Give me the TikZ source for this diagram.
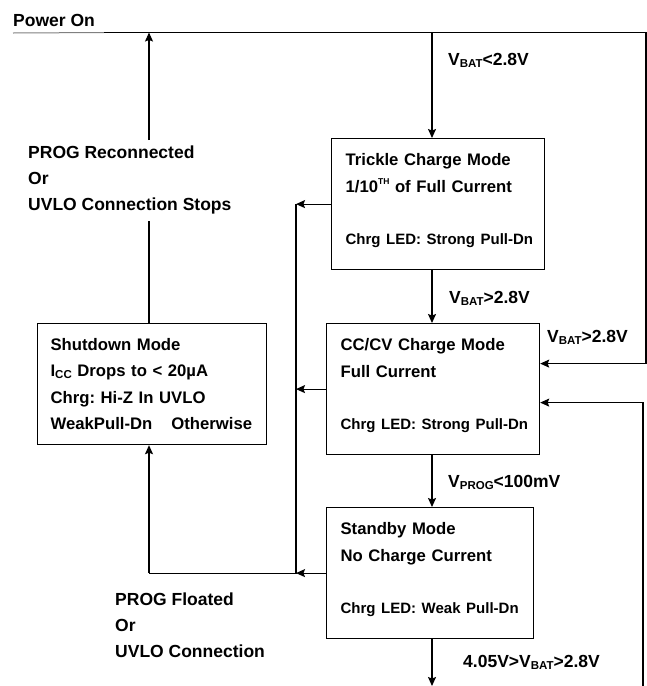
\documentclass[tikz,border=0pt]{standalone}
\usepackage{fontspec}
\setmainfont{Liberation Sans}
\usetikzlibrary{arrows.meta}
\newcommand{\boxfont}{\fontsize{16.7}{26.3}\selectfont\bfseries\frenchspacing}
\newcommand{\ledline}[1]{\mbox{\fontsize{15}{26.3}\selectfont #1\rule[-10pt]{0pt}{10pt}}}
\newcommand{\lblfont}{\fontsize{17.5}{26}\selectfont\bfseries\frenchspacing}
\newcommand{\lowtxt}[1]{\raisebox{-2pt}{\fontsize{11.5}{12}\selectfont #1}}
\newcommand{\hightxt}[1]{\raisebox{8pt}{\fontsize{8.5}{9}\selectfont #1}}
\tikzstyle{arrow} = [line width=1.2pt,->,>={Stealth[length=9pt,width=8pt,inset=1.5pt]}]
\tikzstyle{wire} = [line width=1.2pt]
\tikzset{modebox/.style={draw,line width=1.2pt,anchor=north west,align=left,inner xsep=14pt,inner ysep=4pt,minimum height=131pt,font=\boxfont},cond/.style={anchor=base west,inner sep=0pt,font=\lblfont},note/.style={anchor=north west,align=left,inner xsep=0pt,inner ysep=6pt,font=\lblfont}}

\begin{document}
\begin{tikzpicture}[x=1pt,y=-1pt]
    \useasboundingbox (0,0) rectangle (646,686);

    \node [modebox, text width=185pt] (trickle) at (331,138) {Trickle Charge Mode\\1/10\hightxt{TH} of Full Current\\[26.3pt]\ledline{Chrg LED: Strong Pull-Dn}};
    \node [modebox, text width=185pt] (cccv) at (326,323) {CC/CV Charge Mode\\Full Current\\[26.3pt]\ledline{Chrg LED: Strong Pull-Dn}};
    \node [modebox, text width=179pt] (standby) at (326,507) {Standby Mode\\No Charge Current\\[26.3pt]\ledline{Chrg LED: Weak Pull-Dn}};
    \node [modebox, text width=203pt, inner xsep=13pt, minimum height=121pt] (shutdown) at (37,323) {Shutdown Mode\\I\lowtxt{CC} Drops to < 20µA\\Chrg: Hi-Z In UVLO\\WeakPull-Dn\hspace{19pt}Otherwise};

    \node [cond] (pwr) at (13,26) {Power On};
    \node [cond] (lowbat) at (448,65) {V\lowtxt{BAT}<2.8V};
    \node [cond] (okbat) at (449,303) {V\lowtxt{BAT}>2.8V};
    \node [cond] (okbatR) at (547,342) {V\lowtxt{BAT}>2.8V};
    \node [cond] (lowprog) at (448,487) {V\lowtxt{PROG}<100mV};
    \node [cond] (midbat) at (463,667) {4.05V>V\lowtxt{BAT}>2.8V};
    \node [note] (reconn) at (28,140) {PROG Reconnected\\Or\\UVLO Connection Stops};
    \node [note] (floated) at (115,587) {PROG Floated\\Or\\UVLO Connection};

    \coordinate (ulL) at (13,33);
    \coordinate (ulR) at (104,32.5);
    \coordinate (railT) at (646,32.5);
    \coordinate (railB) at (643,686);
    \coordinate (tap) at (432,32.5);
    \coordinate (exit) at (432,686);
    \path (trickle.west) ++(-35,0) coordinate (busT);
    \path (standby.west) ++(-30,0) coordinate (busB);
    \path (busB) ++(-147,0) coordinate (lft);

    \draw [gray, line width=1pt] (ulL) -- (ulR);
    \draw [arrow] (ulR) -- (railT) |- ([yshift=25.5pt]cccv.east);
    \draw [arrow] (railB) |- ([yshift=-13.5pt]cccv.east);
    \draw [arrow] (tap) -- (tap |- trickle.north);
    \draw [arrow] (trickle.south -| tap) -- (cccv.north -| tap);
    \draw [arrow] (cccv.south -| tap) -- (standby.north -| tap);
    \draw [arrow] (standby.south -| tap) -- (exit);
    % back to shutdown
    \draw [arrow] (trickle.west) -- (busT);
    \draw [arrow] (cccv.west) -- (busT |- cccv.west);
    \draw [arrow] (standby.west) -- (busB);
    \draw [wire] (busT) -- (busB) -- (lft);
    \draw [arrow] (lft) -- (shutdown.south -| lft);
    \draw [wire] (shutdown.north -| lft) -- (reconn.south -| lft);
    \draw [arrow] (reconn.north -| lft) -- (lft |- tap);
\end{tikzpicture}
\end{document}
